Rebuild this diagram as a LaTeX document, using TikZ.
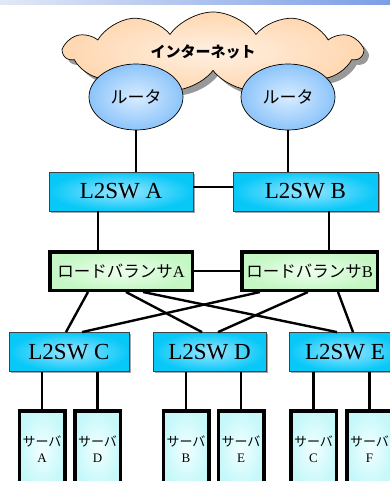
\documentclass[tikz,border=0pt]{standalone}
\usepackage{fontspec}
\setmainfont{Liberation Serif}
\newfontfamily\jp{Noto Sans CJK JP}
\usetikzlibrary{shapes.symbols,shapes.geometric,shadows}
\definecolor{barL}{HTML}{E2E8F6}
\definecolor{barR}{HTML}{7C9EE6}
\definecolor{cloudin}{HTML}{FFF0E2}
\definecolor{cloudout}{HTML}{FFD7B0}
\definecolor{rtin}{HTML}{D8ECFF}
\definecolor{rtout}{HTML}{8CC4FA}
\definecolor{swin}{HTML}{9BE6FF}
\definecolor{swout}{HTML}{08C8F8}
\definecolor{lbin}{HTML}{EEFFEE}
\definecolor{lbout}{HTML}{C4F7C4}
\definecolor{svin}{HTML}{F2FFFF}
\definecolor{svout}{HTML}{C6F8FA}
\begin{document}
\begin{tikzpicture}[x=1pt,y=-1pt,
  conn/.style={line width=2.4pt, black},
  router/.style={ellipse, draw=black, line width=0.7pt, inner color=rtin, outer color=rtout,
    minimum width=94pt, minimum height=66pt, font=\jp\fontsize{17}{17}\selectfont},
  swbox/.style={rectangle, draw=black!75, line width=0.8pt, inner color=swin, outer color=swout,
    minimum height=39pt, font=\fontsize{23}{23}\selectfont,
    drop shadow={shadow xshift=1.5pt, shadow yshift=-1.5pt, fill=black!35, opacity=1}},
  lbbox/.style={rectangle, draw=black, line width=3.5pt, inner color=lbin, outer color=lbout,
    minimum height=38.5pt, inner sep=1pt, font=\fontsize{16.5}{16.5}\selectfont},
  svbox/.style={rectangle, draw=black, line width=3.5pt, inner color=svin, outer color=svout,
    minimum width=45.5pt, minimum height=76pt, inner sep=0pt, align=center,
    font=\fontsize{13}{16}\selectfont}
]
\useasboundingbox (0,0) rectangle (390,481);
\clip (0,0) rectangle (390,481);
\shade[left color=barL, right color=barR] (0,0) rectangle (390,4.5);

% cloud
\node[cloud, cloud puffs=11, cloud puff arc=110, aspect=3.7, draw=black, line width=0.7pt,
  inner color=cloudin, outer color=cloudout, minimum width=298pt, minimum height=80pt,
  font=\jp\bfseries\fontsize{15}{15}\selectfont,
  drop shadow={shadow xshift=5pt, shadow yshift=-5pt, fill=black!40, opacity=1}]
  (net) at (213,52) {インターネット\kern20pt};

% routers
\node[router] (rA) at (136,97) {ルータ};
\node[router] (rB) at (288,97) {ルータ};

% L2SW A/B
\node[swbox, minimum width=144pt] (swA) at (121,191.5) {L2SW A};
\node[swbox, minimum width=145pt] (swB) at (305.5,191.5) {L2SW B};

% load balancers
\node[lbbox, minimum width=142.5pt] (lbA) at (121,271) {{\jp ロードバランサ}A};
\node[lbbox, minimum width=135.5pt] (lbB) at (309.5,271) {{\jp ロードバランサ}B};

% L2SW C/D/E
\node[swbox, minimum width=120pt] (swC) at (69,352) {L2SW C};
\node[swbox, minimum width=113pt] (swD) at (209.5,352) {L2SW D};
\node[swbox, minimum width=112pt] (swE) at (345,352) {L2SW E};

% servers
\node[svbox] (svA) at (42,449) {{\jp サーバ}\\A};
\node[svbox] (svD) at (97.5,449) {{\jp サーバ}\\D};
\node[svbox] (svB) at (186,449) {{\jp サーバ}\\B};
\node[svbox] (svE) at (241,449) {{\jp サーバ}\\E};
\node[svbox] (svC) at (313.5,449) {{\jp サーバ}\\C};
\node[svbox] (svF) at (369.5,449) {{\jp サーバ}\\F};

% connectors
\draw[conn] (rA.south) -- (rA.south |- swA.north);
\draw[conn] (rB.south) -- (rB.south |- swB.north);
\draw[conn] ([yshift=4.5pt]swA.east) -- ([yshift=4.5pt]swA.east -| swB.west);
\draw[conn] ([xshift=-23pt]swA.south) -- ([xshift=-23pt]swA.south |- lbA.north);
\draw[conn] ([xshift=23.5pt]swB.south) -- ([xshift=23.5pt]swB.south |- lbB.north);
\draw[conn] (lbA.east) -- (lbB.west);

\draw[conn] ([xshift=-33pt]lbA.south) -- ([xshift=-3pt]swC.north);
\draw[conn] ([xshift=5pt]lbA.south) -- ([xshift=-7.5pt]swD.north);
\draw[conn] ([xshift=22pt]lbA.south) -- ([xshift=-8pt]swE.north);
\draw[conn] ([xshift=-49.5pt]lbB.south) -- ([xshift=13pt]swC.north);
\draw[conn] ([xshift=-1.5pt]lbB.south) -- ([xshift=8.5pt]swD.north);
\draw[conn] ([xshift=28.5pt]lbB.south) -- ([xshift=8pt]swE.north);

\draw[conn] (svA.north) -- (svA.north |- swC.south);
\draw[conn] (svD.north) -- (svD.north |- swC.south);
\draw[conn] (svB.north) -- (svB.north |- swD.south);
\draw[conn] (svE.north) -- (svE.north |- swD.south);
\draw[conn] (svC.north) -- (svC.north |- swE.south);
\draw[conn] (svF.north) -- (svF.north |- swE.south);
\end{tikzpicture}
\end{document}
